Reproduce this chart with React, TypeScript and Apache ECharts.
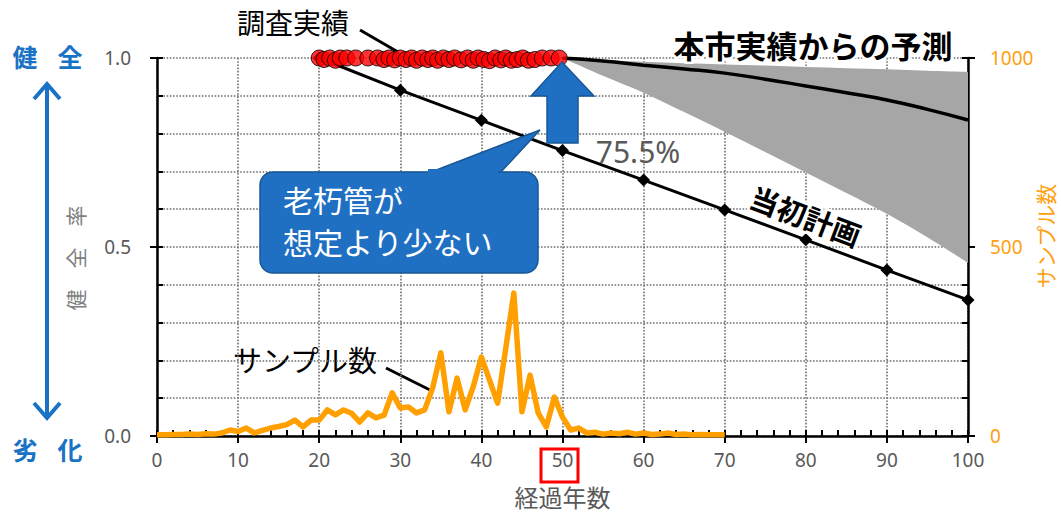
import React, { useEffect, useRef } from "react";
import * as echarts from "echarts";

// サンプル数 (right axis), one value per elapsed year 0..70
const sampleCounts = [
  3, 3, 4, 4, 5, 4, 6, 5, 8, 16,
  12, 21, 8, 15, 21, 25, 30, 42, 24, 42,
  42, 69, 56, 69, 60, 37, 61, 48, 55, 114,
  74, 77, 61, 69, 128, 220, 64, 153, 69, 131,
  209, 148, 87, 232, 378, 64, 161, 61, 24, 103,
  50, 16, 21, 8, 10, 5, 8, 6, 10, 5,
  8, 4, 5, 8, 4, 5, 3, 4, 3, 3,
  3,
];

// 当初計画
const planYears = [20, 30, 40, 50, 60, 70, 80, 90, 100];
const planValues = [1.0, 0.915, 0.835, 0.755, 0.677, 0.598, 0.519, 0.439, 0.36];

// 本市実績からの予測 and its band
const forecastYears = [50, 55, 60, 65, 70, 75, 80, 85, 90, 95, 100];
const forecastValues = [1.0, 0.992, 0.981, 0.971, 0.96, 0.944, 0.926, 0.908, 0.889, 0.864, 0.836];
const bandUpper = [1.0, 0.995, 0.99, 0.986, 0.983, 0.98, 0.976, 0.973, 0.97, 0.966, 0.963];
const bandLower = [1.0, 0.953, 0.908, 0.857, 0.805, 0.751, 0.697, 0.643, 0.588, 0.526, 0.458];

// 調査実績
const surveyYears = [
  20, 20.6, 21.3, 22, 22.6, 23.4, 24.5, 26, 27.2, 28, 28.6, 29.3, 30, 30.7, 31.4,
  32, 32.7, 33.4, 34, 34.6, 35.3, 36, 36.7, 37.5, 38.3, 39, 39.6, 40.3, 41, 41.7,
  42.4, 43, 43.7, 44.4, 45.1, 45.8, 46.6, 47.5, 48.6, 49.6,
];
const surveyValues = [
  1.0, 0.996, 1.0, 0.994, 1.0, 1.0, 1.0, 1.0, 1.0, 0.996, 1.0, 0.995, 1.0, 0.996, 1.0,
  0.994, 1.0, 0.996, 1.0, 0.994, 1.0, 0.996, 1.0, 0.995, 1.0, 0.994, 1.0, 0.996, 0.993, 1.0,
  0.995, 1.0, 0.994, 0.996, 1.0, 0.994, 0.996, 1.0, 1.0, 1.0,
];

const JP = "'Noto Sans CJK JP', 'Noto Sans', sans-serif";
const NUM = "'Noto Sans', 'Open Sans', sans-serif";
const BLUE = "#1f6fc2";
const BLUE_DARK = "#1a5796";
const ORANGE = "#ffa010";
const GRAY_TXT = "#595959";

// Catmull-Rom -> cubic bezier path segments through pixel points
function curvePath(pts: number[][], moveFirst: boolean): string {
  let d = moveFirst ? `M${pts[0][0]},${pts[0][1]}` : `L${pts[0][0]},${pts[0][1]}`;
  for (let i = 0; i < pts.length - 1; i++) {
    const p0 = pts[Math.max(0, i - 1)];
    const p1 = pts[i];
    const p2 = pts[i + 1];
    const p3 = pts[Math.min(pts.length - 1, i + 2)];
    const c1x = p1[0] + (p2[0] - p0[0]) / 6;
    const c1y = p1[1] + (p2[1] - p0[1]) / 6;
    const c2x = p2[0] - (p3[0] - p1[0]) / 6;
    const c2y = p2[1] - (p3[1] - p1[1]) / 6;
    d += ` C${c1x},${c1y} ${c2x},${c2y} ${p2[0]},${p2[1]}`;
  }
  return d;
}

export default function App() {
  const ref = useRef<HTMLDivElement>(null);

  useEffect(() => {
    if (!ref.current) return;
    const chart = echarts.init(ref.current, undefined, { renderer: "svg" });

    const dotted = { type: "dotted", color: "#6e6e6e", width: 1.6 };
    const tickStyle = { color: "#000", width: 2 };

    const option: any = {
      animation: false,
      backgroundColor: "#ffffff",
      grid: { left: 157, right: 93, top: 58, bottom: 78, containLabel: false, outerBoundsMode: "none" },
      xAxis: [
        {
          type: "value",
          min: 0,
          max: 100,
          interval: 10,
          position: "bottom",
          offset: 0,
          axisLine: { show: true, onZero: false, lineStyle: { color: "#000", width: 2.5 } },
          axisTick: { show: true, inside: true, length: 6, lineStyle: tickStyle },
          minorTick: { show: true, splitNumber: 5, length: 6, lineStyle: tickStyle },
          axisLabel: { show: true, color: GRAY_TXT, fontSize: 19, fontFamily: NUM, margin: 14 },
          splitLine: { show: true, lineStyle: dotted },
          name: "経過年数",
          nameLocation: "middle",
          nameGap: 48,
          nameTextStyle: { color: GRAY_TXT, fontSize: 24, fontFamily: JP },
        },
        {
          type: "value",
          min: 0,
          max: 100,
          interval: 10,
          position: "bottom",
          offset: 0,
          axisLine: { show: false, onZero: false },
          axisTick: { show: true, inside: false, length: 7, lineStyle: tickStyle },
          axisLabel: { show: false },
          splitLine: { show: false },
        },
      ],
      yAxis: [
        {
          type: "value",
          min: 0,
          max: 1,
          interval: 0.5,
          position: "left",
          offset: 0,
          axisLine: { show: true, onZero: false, lineStyle: { color: "#000", width: 2.5 } },
          axisTick: { show: true, inside: true, length: 6, lineStyle: tickStyle },
          minorTick: { show: true, splitNumber: 5, length: 6, lineStyle: tickStyle },
          axisLabel: {
            color: GRAY_TXT,
            fontSize: 19,
            fontFamily: NUM,
            margin: 26,
            formatter: (v: number) => v.toFixed(1),
          },
          splitLine: { show: true, lineStyle: dotted },
          minorSplitLine: { show: true, lineStyle: dotted },
        },
        {
          type: "value",
          min: 0,
          max: 1,
          interval: 0.5,
          position: "left",
          offset: 0,
          axisLine: { show: false, onZero: false },
          axisTick: { show: true, inside: false, length: 7, lineStyle: tickStyle },
          axisLabel: { show: false },
          splitLine: { show: false },
        },
        {
          type: "value",
          min: 0,
          max: 1000,
          interval: 500,
          position: "right",
          offset: 0,
          axisLine: { show: true, onZero: false, lineStyle: { color: "#000", width: 2.5 } },
          axisTick: { show: true, inside: true, length: 6, lineStyle: tickStyle },
          minorTick: { show: true, splitNumber: 5, length: 6, lineStyle: tickStyle },
          axisLabel: { color: ORANGE, fontSize: 19, fontFamily: NUM, margin: 22, formatter: (v: number) => String(v) },
          splitLine: { show: false },
        },
        {
          type: "value",
          min: 0,
          max: 1000,
          interval: 500,
          position: "right",
          offset: 0,
          axisLine: { show: false, onZero: false },
          axisTick: { show: true, inside: false, length: 7, lineStyle: tickStyle },
          axisLabel: { show: false },
          splitLine: { show: false },
        },
      ],
      series: [
        {
          name: "予測範囲",
          type: "custom",
          coordinateSystem: "cartesian2d",
          xAxisIndex: 0,
          yAxisIndex: 0,
          silent: true,
          z: 1,
          encode: { x: 0, y: [1, 2] },
          data: forecastYears.map((x, i) => [x, bandLower[i], bandUpper[i]]),
          renderItem: (params: any, api: any) => {
            if (params.dataIndex !== 0) return null;
            const up = forecastYears.map((x, i) => api.coord([x, bandUpper[i]]));
            const lo = forecastYears.map((x, i) => api.coord([x, bandLower[i]])).reverse();
            const d = curvePath(up, true) + " " + curvePath(lo, false) + " Z";
            return {
              type: "path",
              shape: { pathData: d },
              style: { fill: "#a6a6a6", stroke: "none" },
            };
          },
        },
        {
          name: "本市実績からの予測",
          type: "line",
          smooth: true,
          symbol: "none",
          lineStyle: { color: "#000", width: 3.5 },
          data: forecastYears.map((x, i) => [x, forecastValues[i]]),
          z: 3,
        },
        {
          name: "サンプル数",
          type: "line",
          yAxisIndex: 2,
          symbol: "none",
          lineStyle: { color: "#ffa000", width: 5.5, join: "round" },
          itemStyle: { color: "#ffa000" },
          data: sampleCounts.map((v, i) => [i, v]),
          z: 4,
        },
        {
          name: "当初計画",
          type: "line",
          symbol: "diamond",
          symbolSize: 13,
          clip: false,
          lineStyle: { color: "#000", width: 3 },
          itemStyle: { color: "#000" },
          data: planYears.map((x, i) => [x, planValues[i]]),
          z: 5,
        },
        {
          name: "調査実績",
          type: "scatter",
          symbol: "circle",
          symbolSize: 16,
          clip: false,
          itemStyle: { color: "#ff0000", borderColor: "#000", borderWidth: 1 },
          data: surveyYears.map((x, i) => [x, surveyValues[i]]),
          z: 6,
        },
      ],
      graphic: [
        // left side labels
        { type: "text", x: 25, y: 56, style: { text: "健", fill: "#1a72c4", fontSize: 25, fontWeight: "bold", fontFamily: JP, align: "center", verticalAlign: "middle" } },
        { type: "text", x: 70, y: 56, style: { text: "全", fill: "#1a72c4", fontSize: 25, fontWeight: "bold", fontFamily: JP, align: "center", verticalAlign: "middle" } },
        { type: "text", x: 25, y: 449, style: { text: "劣", fill: "#1a72c4", fontSize: 25, fontWeight: "bold", fontFamily: JP, align: "center", verticalAlign: "middle" } },
        { type: "text", x: 70, y: 449, style: { text: "化", fill: "#1a72c4", fontSize: 25, fontWeight: "bold", fontFamily: JP, align: "center", verticalAlign: "middle" } },
        { type: "line", shape: { x1: 47, y1: 84, x2: 47, y2: 418 }, style: { stroke: "#1a72c4", lineWidth: 4 } },
        { type: "polyline", shape: { points: [[34, 99], [47, 84], [60, 99]] }, style: { stroke: "#1a72c4", lineWidth: 4, fill: "none" } },
        { type: "polyline", shape: { points: [[34, 403], [47, 418], [60, 403]] }, style: { stroke: "#1a72c4", lineWidth: 4, fill: "none" } },
        { type: "text", x: 75, y: 258, rotation: Math.PI / 2, style: { text: "健　全　率", fill: "#7f7f7f", fontSize: 21, fontFamily: JP, align: "center", verticalAlign: "middle" } },
        // right axis name
        { type: "text", x: 1045, y: 236, rotation: Math.PI / 2, style: { text: "サンプル数", fill: ORANGE, fontSize: 21, fontFamily: JP, align: "center", verticalAlign: "middle" } },
        // 調査実績 label
        { type: "text", x: 293, y: 22, style: { text: "調査実績", fill: "#000", fontSize: 28, fontFamily: JP, align: "center", verticalAlign: "middle" } },
        { type: "line", shape: { x1: 360, y1: 30, x2: 398, y2: 52 }, style: { stroke: "#000", lineWidth: 3 } },
        // サンプル数 label
        { type: "text", x: 305, y: 359, style: { text: "サンプル数", fill: "#000", fontSize: 29, fontFamily: JP, align: "center", verticalAlign: "middle" } },
        { type: "line", shape: { x1: 386, y1: 368, x2: 432, y2: 391 }, style: { stroke: "#000", lineWidth: 3 } },
        // 本市実績からの予測
        { type: "text", x: 813, y: 44, z: 100, style: { text: "本市実績からの予測", fill: "#000", stroke: "#fff", lineWidth: 5, fontSize: 31, fontWeight: "bold", fontFamily: JP, align: "center", verticalAlign: "middle" } },
        // 当初計画
        { type: "text", x: 806, y: 215, rotation: -0.36, z: 100, style: { text: "当初計画", fill: "#000", stroke: "#fff", lineWidth: 5, fontSize: 29, fontWeight: "bold", fontFamily: JP, align: "center", verticalAlign: "middle" } },
        // 75.5%
        { type: "text", x: 638, y: 151, style: { text: "75.5%", fill: GRAY_TXT, fontSize: 30, fontFamily: NUM, align: "center", verticalAlign: "middle" } },
        // blue up arrow
        {
          type: "polygon",
          z: 50,
          shape: { points: [[562, 62], [594, 96], [578, 96], [578, 143], [547, 143], [547, 96], [531, 96]] },
          style: { fill: BLUE, stroke: BLUE_DARK, lineWidth: 1.5 },
        },
        // callout
        {
          type: "polygon",
          z: 50,
          shape: { points: [[426, 174], [540, 130], [499, 174]] },
          style: { fill: BLUE, stroke: BLUE_DARK, lineWidth: 1.5 },
        },
        {
          type: "rect",
          z: 50,
          shape: { x: 260, y: 172, width: 278, height: 101, r: 13 },
          style: { fill: BLUE, stroke: BLUE_DARK, lineWidth: 1.5 },
        },
        {
          type: "rect",
          z: 51,
          shape: { x: 428, y: 169, width: 70, height: 7 },
          style: { fill: BLUE, stroke: "none" },
        },
        { type: "text", x: 283, y: 199, z: 52, style: { text: "老朽管が", fill: "#fff", fontSize: 30, fontFamily: JP, align: "left", verticalAlign: "middle" } },
        { type: "text", x: 283, y: 241, z: 52, style: { text: "想定より少ない", fill: "#fff", fontSize: 30, fontFamily: JP, align: "left", verticalAlign: "middle" } },
        // red box around 50
        {
          type: "rect",
          z: 60,
          shape: { x: 541, y: 449, width: 37, height: 33 },
          style: { fill: "none", stroke: "#ff0000", lineWidth: 3 },
        },
      ],
    };

    chart.setOption(option);
    return () => chart.dispose();
  }, []);

  return (
    <div
      ref={ref}
      style={{ position: "absolute", left: 0, top: 0, width: 1061, height: 514, background: "#fff" }}
    />
  );
}
